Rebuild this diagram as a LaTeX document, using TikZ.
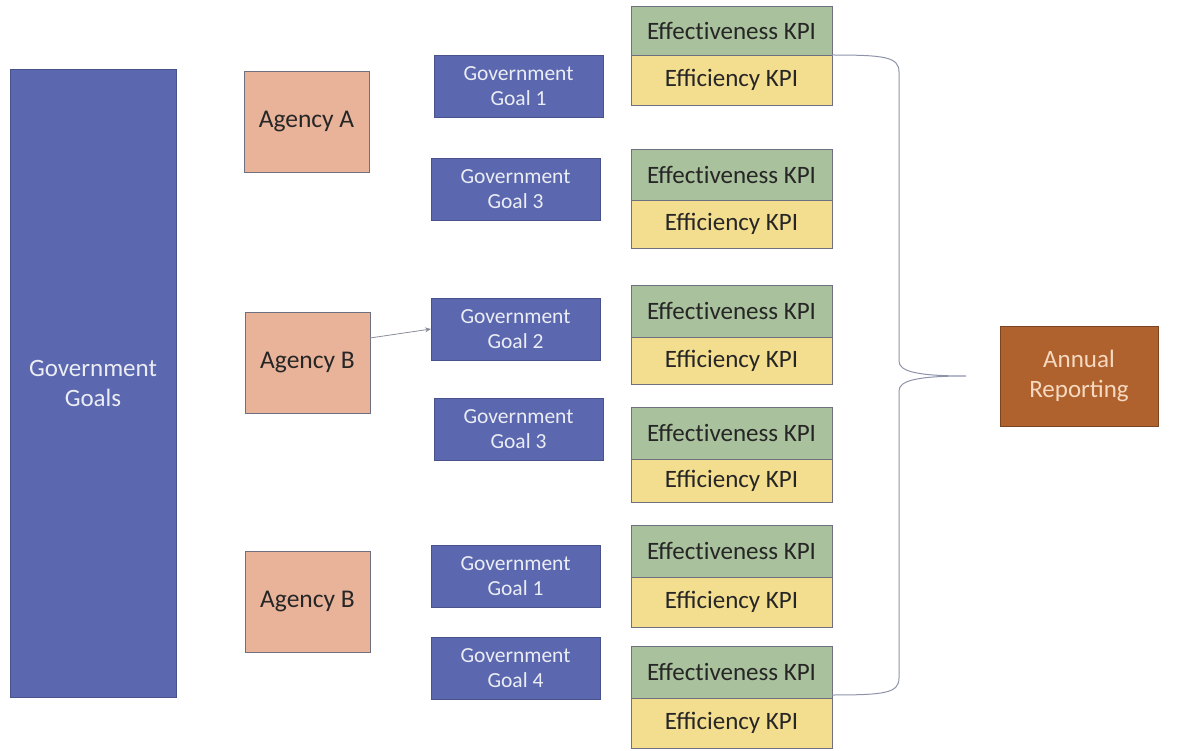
\documentclass[tikz,border=0pt]{standalone}
\usepackage{fontspec}
\setmainfont{Carlito}
\usetikzlibrary{arrows.meta}
\definecolor{gblue}{HTML}{5B67AE}
\definecolor{agency}{HTML}{E9B39A}
\definecolor{effg}{HTML}{A9C19C}
\definecolor{effy}{HTML}{F3DD8E}
\definecolor{bord}{HTML}{6E7080}
\definecolor{annual}{HTML}{B0622E}
\definecolor{annualtxt}{HTML}{F5D9C0}
\definecolor{bracec}{HTML}{8E93AA}
\newcommand{\effkpi}{Effect\kern0pt iveness KPI}
\tikzset{
  base/.style={draw=bord, line width=0.9pt, outer sep=0pt, inner sep=1pt, align=center},
  goalbox/.style={base, fill=gblue, draw=gblue!80!black, text=white!88!gblue, font=\fontsize{21.5}{25}\selectfont, minimum width=169pt, minimum height=62pt},
  agencybox/.style={base, fill=agency, font=\fontsize{25.5}{30}\selectfont, text=black!85, minimum width=125pt, minimum height=101pt},
  effbox/.style={base, fill=effg, font=\fontsize{25}{28}\selectfont, text=black!85, minimum width=201pt},
  efibox/.style={base, fill=effy, font=\fontsize{25}{28}\selectfont, text=black!85, minimum width=201pt},
  bracestyle/.style={draw=bracec, line width=1pt},
  arr/.style={draw=bord!80, line width=0.8pt, -{Stealth[length=6pt,width=5pt]}}
}
\begin{document}
\begin{tikzpicture}[x=1pt,y=-1pt]
\useasboundingbox (0,0) rectangle (1189,751);
% big box
\node[base, fill=gblue, draw=gblue!80!black, text=white!88!gblue, font=\fontsize{25}{30}\selectfont, minimum width=166pt, minimum height=628pt] (gg) at (93,383) {Government\\Goals};
% agencies
\node[agencybox] (agA) at (306.5,121.5) {Agency A};
\node[agencybox] (agB1) at (307.5,363) {Agency B};
\node[agencybox] (agB2) at (307.5,602) {Agency B};
% goals
\node[goalbox] (g1) at (518.5,86) {Government\\Goal 1};
\node[goalbox] (g3) at (515.5,189) {Government\\Goal 3};
\node[goalbox] (g2) at (515.5,329) {Government\\Goal 2};
\node[goalbox] (g3b) at (518.5,429) {Government\\Goal 3};
\node[goalbox] (g1b) at (515.5,576) {Government\\Goal 1};
\node[goalbox] (g4) at (515.5,668) {Government\\Goal 4};
% KPIs
\node[effbox, minimum height=49pt] (e1) at (731.5,30.5) {\effkpi};
\node[efibox, minimum height=50pt, anchor=north] (f1) at (e1.south) {Efficiency KPI};
\node[effbox, minimum height=51pt] (e2) at (731.5,174.5) {\effkpi};
\node[efibox, minimum height=48pt, anchor=north] (f2) at (e2.south) {Efficiency KPI};
\node[effbox, minimum height=52pt] (e3) at (731.5,311) {\effkpi};
\node[efibox, minimum height=47pt, anchor=north] (f3) at (e3.south) {Efficiency KPI};
\node[effbox, minimum height=52pt] (e4) at (731.5,433) {\effkpi};
\node[efibox, minimum height=43pt, anchor=north] (f4) at (e4.south) {Efficiency KPI};
\node[effbox, minimum height=52pt] (e5) at (731.5,551) {\effkpi};
\node[efibox, minimum height=50pt, anchor=north] (f5) at (e5.south) {Efficiency KPI};
\node[effbox, minimum height=52pt] (e6) at (731.5,672) {\effkpi};
\node[efibox, minimum height=50pt, anchor=north] (f6) at (e6.south) {Efficiency KPI};
% annual
\node[base, fill=annual, draw=annual!70!black, text=annualtxt, font=\fontsize{25}{30}\selectfont, minimum width=158pt, minimum height=100pt] (ar) at (1079,376) {Annual\\Reporting};
% arrow
\draw[arr] (agB1.east|-0,338) -- (g2.west);
% brace
\coordinate (tip) at (966,376);
\draw[bracestyle] (e1.south east) .. controls (885,55) and (899,57) .. (899,72)
  -- (899,361) .. controls (899,371) and (915,376) .. (tip)
  .. controls (915,376) and (899,381) .. (899,391)
  -- (899,678) .. controls (899,693) and (885,695) .. (e6.east|-0,695);
\end{tikzpicture}
\end{document}
